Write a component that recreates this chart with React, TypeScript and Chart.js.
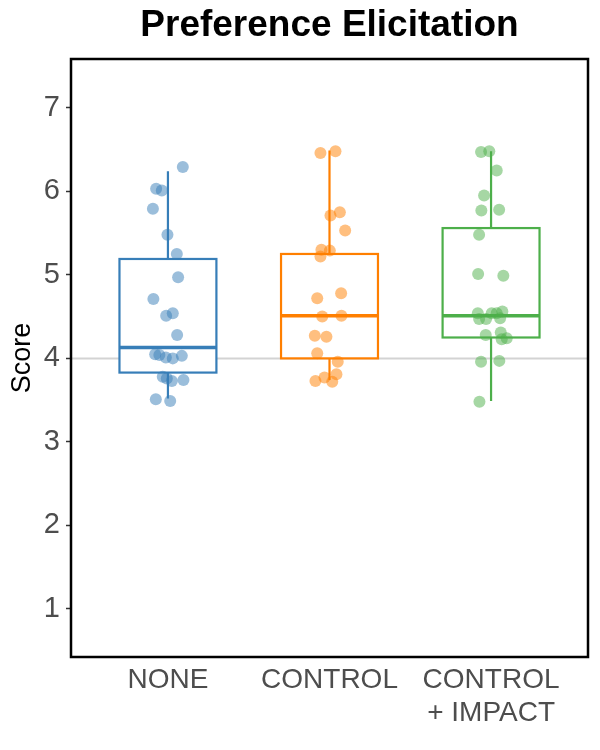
import React, { useEffect, useRef } from "react";
import { Chart, registerables } from "chart.js";

Chart.register(...registerables);

// Groups shown along the x axis (a "\n" splits a label over two lines)
const groups = ["NONE", "CONTROL", "CONTROL\n+ IMPACT"];
const groupColors = ["#377EB8", "#FF7F00", "#4DAF4A"];
const pointColors = ["rgba(55,126,184,0.5)", "rgba(255,127,0,0.5)", "rgba(77,175,74,0.5)"];

// Box summary per group
const whiskerLow = [3.52, 3.74, 3.49];
const quartile1 = [3.83, 4.0, 4.25];
const medians = [4.13, 4.51, 4.51];
const quartile3 = [5.19, 5.25, 5.56];
const whiskerHigh = [6.24, 6.49, 6.48];

// Individual (jittered) scores per group, with their horizontal jitter
const noneScores = [6.29, 6.03, 6.01, 5.79, 5.48, 5.25, 4.97, 4.71, 4.51, 4.54, 4.28, 4.05, 4.04, 4.01, 4.0, 4.03, 3.78, 3.76, 3.73, 3.74, 3.51, 3.49];
const noneJitter = [0.092, -0.073, -0.038, -0.093, -0.003, 0.055, 0.063, -0.09, -0.011, 0.03, 0.057, -0.079, -0.053, -0.013, 0.03, 0.086, -0.032, -0.007, 0.024, 0.096, -0.075, 0.014];

const controlScores = [6.46, 6.48, 5.71, 5.75, 5.53, 5.3, 5.22, 5.29, 4.72, 4.78, 4.5, 4.51, 4.27, 4.26, 4.06, 3.96, 3.81, 3.73, 3.77, 3.72];
const controlJitter = [-0.056, 0.037, 0.006, 0.064, 0.097, -0.05, -0.056, 0.002, -0.076, 0.072, -0.045, 0.074, -0.091, -0.019, -0.076, 0.051, 0.043, -0.087, -0.031, 0.017];

const impactScores = [6.47, 6.48, 6.25, 5.95, 5.77, 5.78, 5.48, 5.01, 4.99, 4.54, 4.47, 4.47, 4.54, 4.54, 4.56, 4.48, 4.28, 4.31, 4.23, 4.24, 3.96, 3.97, 3.48];
const impactJitter = [-0.062, -0.011, 0.035, -0.043, -0.06, 0.05, -0.074, -0.08, 0.076, -0.082, -0.074, -0.031, 0.004, 0.035, 0.07, 0.056, -0.033, 0.06, 0.066, 0.097, -0.062, 0.051, -0.072];

const groupScores = [noneScores, controlScores, impactScores];
const groupJitter = [noneJitter, controlJitter, impactJitter];

const yTicks = [1, 2, 3, 4, 5, 6, 7];
const referenceScore = 4;
const chartTitle = "Preference Elicitation";
const yTitle = "Score";

const FONT = "'Liberation Sans', Arial, Helvetica, sans-serif";
const BOX_HALF = 0.3;

const boxPlugin = {
  id: "boxSummary",
  beforeDatasetsDraw(chart: any) {
    const { ctx, chartArea } = chart;
    const x = chart.scales.x;
    const y = chart.scales.y;
    ctx.save();
    // reference line
    const yr = y.getPixelForValue(referenceScore);
    ctx.strokeStyle = "#D3D3D3";
    ctx.lineWidth = 2;
    ctx.beginPath();
    ctx.moveTo(chartArea.left, yr);
    ctx.lineTo(chartArea.right, yr);
    ctx.stroke();

    groups.forEach((_, i) => {
      const cx = x.getPixelForValue(i + 1);
      const left = x.getPixelForValue(i + 1 - BOX_HALF);
      const right = x.getPixelForValue(i + 1 + BOX_HALF);
      const pLow = y.getPixelForValue(whiskerLow[i]);
      const pQ1 = y.getPixelForValue(quartile1[i]);
      const pMed = y.getPixelForValue(medians[i]);
      const pQ3 = y.getPixelForValue(quartile3[i]);
      const pHigh = y.getPixelForValue(whiskerHigh[i]);

      ctx.strokeStyle = groupColors[i];
      ctx.lineWidth = 2.2;
      ctx.lineCap = "butt";
      ctx.beginPath();
      ctx.moveTo(cx, pHigh);
      ctx.lineTo(cx, pQ3);
      ctx.moveTo(cx, pQ1);
      ctx.lineTo(cx, pLow);
      ctx.stroke();

      ctx.fillStyle = "#FFFFFF";
      ctx.fillRect(left, pQ3, right - left, pQ1 - pQ3);
      ctx.strokeRect(left, pQ3, right - left, pQ1 - pQ3);

      ctx.lineWidth = 3.5;
      ctx.beginPath();
      ctx.moveTo(left, pMed);
      ctx.lineTo(right, pMed);
      ctx.stroke();
    });
    ctx.restore();
  },
  afterDraw(chart: any) {
    const { ctx, chartArea } = chart;
    ctx.save();
    // panel border
    ctx.strokeStyle = "#000000";
    ctx.lineWidth = 2.5;
    ctx.strokeRect(chartArea.left, chartArea.top, chartArea.right - chartArea.left, chartArea.bottom - chartArea.top);
    // title, centred over the panel
    ctx.fillStyle = "#000000";
    ctx.font = `bold 37px ${FONT}`;
    ctx.textAlign = "center";
    ctx.textBaseline = "middle";
    ctx.fillText(chartTitle, (chartArea.left + chartArea.right) / 2, 26);
    ctx.restore();
  },
};

export default function App() {
  const canvasRef = useRef<HTMLCanvasElement | null>(null);

  useEffect(() => {
    if (!canvasRef.current) return;
    const datasets = groups.map((name, i) => ({
      type: "scatter" as const,
      label: name,
      data: groupScores[i].map((v, k) => ({ x: i + 1 + groupJitter[i][k], y: v })),
      backgroundColor: pointColors[i],
      borderWidth: 0,
      pointRadius: 6,
      pointHoverRadius: 6,
    }));

    const chart = new Chart(canvasRef.current, {
      type: "scatter",
      data: { datasets },
      plugins: [boxPlugin],
      options: {
        animation: false,
        responsive: false,
        devicePixelRatio: 1,
        layout: { padding: { top: 59, right: 12, bottom: 0, left: 0 } },
        plugins: {
          legend: { display: false },
          tooltip: { enabled: false },
          title: { display: false },
        },
        scales: {
          x: {
            type: "linear",
            min: 0.4,
            max: 3.6,
            afterBuildTicks: (axis: any) => {
              axis.ticks = groups.map((_, i) => ({ value: i + 1 }));
            },
            afterFit: (axis: any) => {
              axis.height = 93;
            },
            grid: { display: false, drawTicks: false },
            border: { display: false },
            ticks: {
              autoSkip: false,
              maxRotation: 0,
              padding: 6,
              color: "#4D4D4D",
              font: { family: FONT, size: 28, lineHeight: 1.2 },
              callback: (value: any) => {
                const idx = Math.round(Number(value)) - 1;
                return groups[idx] ? groups[idx].split("\n") : "";
              },
            },
          },
          y: {
            type: "linear",
            min: 0.425,
            max: 7.584,
            afterBuildTicks: (axis: any) => {
              axis.ticks = yTicks.map((v) => ({ value: v }));
            },
            afterFit: (axis: any) => {
              axis.width = 71;
            },
            grid: {
              display: true,
              drawOnChartArea: false,
              drawTicks: true,
              tickLength: 5,
              tickColor: "#333333",
              tickWidth: 1.5,
            },
            border: { display: false },
            ticks: {
              padding: 6,
              color: "#4D4D4D",
              font: { family: FONT, size: 29 },
              callback: (value: any) => String(value),
            },
            title: {
              display: true,
              text: yTitle,
              color: "#000000",
              font: { family: FONT, size: 27, lineHeight: 1.2 },
              padding: { top: 6, bottom: 0 },
            },
          },
        },
      },
    } as any);

    return () => chart.destroy();
  }, []);

  return (
    <div style={{ position: "absolute", left: 0, top: 0, width: 600, height: 750, background: "#FFFFFF" }}>
      <canvas ref={canvasRef} width={600} height={750} style={{ display: "block" }} />
    </div>
  );
}
